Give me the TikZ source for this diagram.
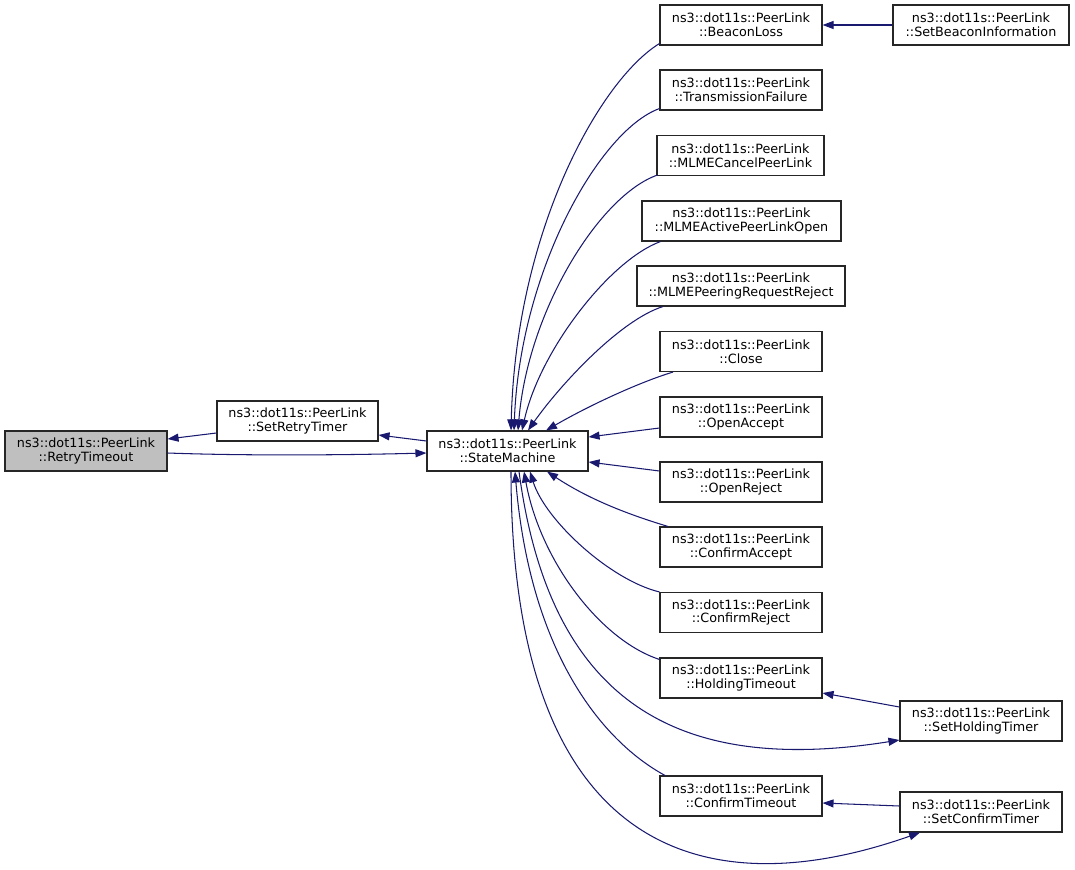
\documentclass[tikz,border=0pt]{standalone}
\usepackage{fontspec}
\setmainfont{DejaVu Sans}
\usetikzlibrary{arrows.meta}
\definecolor{edgeblue}{HTML}{191970}
\definecolor{hilite}{HTML}{BFBFBF}

\begin{document}
\begin{tikzpicture}[x=1bp,y=-1bp,
  fn/.style={draw=black!85, line width=1.1bp, fill=white, minimum width=162bp, minimum height=40bp,
    inner sep=0pt, align=center, font=\fontsize{12.8}{14}\selectfont},
  call/.style={edgeblue, line width=1.05bp, -{Triangle[length=11bp,width=8bp]}}]
\useasboundingbox (0,0) rectangle (1075,870);

\node[fn, fill=hilite] (rt) at (86,451) {ns3::dot11s::PeerLink\\::RetryTimeout};
\node[fn, minimum width=161bp] (srt) at (297.5,421) {ns3::dot11s::PeerLink\\::SetRetryTimer};
\node[fn, minimum width=161bp] (sm) at (507.5,451) {ns3::dot11s::PeerLink\\::StateMachine};

\node[fn] (bl) at (741,25) {ns3::dot11s::PeerLink\\::BeaconLoss};
\node[fn] (tf) at (741,90) {ns3::dot11s::PeerLink\\::TransmissionFailure};
\node[fn, minimum width=167bp] (cpl) at (740.5,155.5) {ns3::dot11s::PeerLink\\::MLMECancelPeerLink};
\node[fn, minimum width=199bp] (apo) at (741.5,221) {ns3::dot11s::PeerLink\\::MLMEActivePeerLinkOpen};
\node[fn, minimum width=208bp] (prr) at (741,286) {ns3::dot11s::PeerLink\\::MLMEPeeringRequestReject};
\node[fn] (cl) at (741,351.5) {ns3::dot11s::PeerLink\\::Close};
\node[fn] (oa) at (741,417) {ns3::dot11s::PeerLink\\::OpenAccept};
\node[fn] (orj) at (741,482) {ns3::dot11s::PeerLink\\::OpenReject};
\node[fn] (ca) at (741,547) {ns3::dot11s::PeerLink\\::ConfirmAccept};
\node[fn] (cr) at (741,612.5) {ns3::dot11s::PeerLink\\::ConfirmReject};
\node[fn] (ht) at (741,678) {ns3::dot11s::PeerLink\\::HoldingTimeout};
\node[fn] (ct) at (741,796) {ns3::dot11s::PeerLink\\::ConfirmTimeout};

\node[fn, minimum width=176bp] (sbi) at (981,25) {ns3::dot11s::PeerLink\\::SetBeaconInformation};
\node[fn] (sht) at (981,721) {ns3::dot11s::PeerLink\\::SetHoldingTimer};
\node[fn] (sct) at (981,812) {ns3::dot11s::PeerLink\\::SetConfirmTimer};

% left part
\draw[call] ([yshift=-12bp]srt.west) -- ([yshift=12bp]rt.east);
\draw[call] ([yshift=-2bp]rt.east) .. controls (250,456) and (350,455) .. ([yshift=-2bp]sm.west);
\draw[call] ([yshift=10bp]sm.west) -- ([yshift=-14bp]srt.east);

% callers above StateMachine
\draw[call] ([yshift=2bp]bl.south west) .. controls (600,80) and (516,230) .. ([xshift=3.5bp]sm.north);
\draw[call] ([yshift=2bp]tf.south west) .. controls (600,130) and (520,270) .. ([xshift=6.5bp]sm.north);
\draw[call] ([xshift=1bp,yshift=1bp]cpl.south west) .. controls (600,195) and (528,310) .. ([xshift=10.5bp]sm.north);
\draw[call] ([xshift=-81bp]apo.south) .. controls (610,260) and (540,350) .. ([xshift=14.5bp]sm.north);
\draw[call] ([xshift=-78bp]prr.south) .. controls (620,320) and (560,385) .. ([xshift=20.5bp]sm.north);
\draw[call] ([xshift=-68bp]cl.south) .. controls (640,382) and (590,405) .. ([xshift=38.5bp]sm.north);
\draw[call] ([yshift=-11bp]oa.west) -- ([yshift=14bp]sm.east);
\draw[call] ([yshift=11bp]orj.west) -- ([yshift=-11bp]sm.east);

% callers below StateMachine
\draw[call] ([xshift=-73bp]ca.north) .. controls (630,515) and (590,500) .. ([xshift=39.5bp]sm.south);
\draw[call] (cr.north west) .. controls (610,580) and (545,520) .. ([xshift=22.5bp]sm.south);
\draw[call] ([yshift=-2bp]ht.north west) .. controls (600,640) and (540,560) .. ([xshift=16.5bp]sm.south);
\draw[call] ([xshift=-76bp]ct.north) .. controls (600,740) and (530,650) .. ([xshift=7.5bp]sm.south);
\draw[call] ([xshift=11.5bp]sm.south) .. controls (550,705) and (680,775) .. ([yshift=-19bp]sht.west);
\draw[call] ([xshift=3.5bp]sm.south) .. controls (511,850) and (700,910) .. ([xshift=-61bp]sct.south);

% right column
\draw[call] (sbi.west) -- (bl.east);
\draw[call] ([yshift=14bp]sht.west) -- ([yshift=-15bp]ht.east);
\draw[call] ([yshift=6bp]sct.west) -- ([yshift=-7bp]ct.east);
\end{tikzpicture}
\end{document}
